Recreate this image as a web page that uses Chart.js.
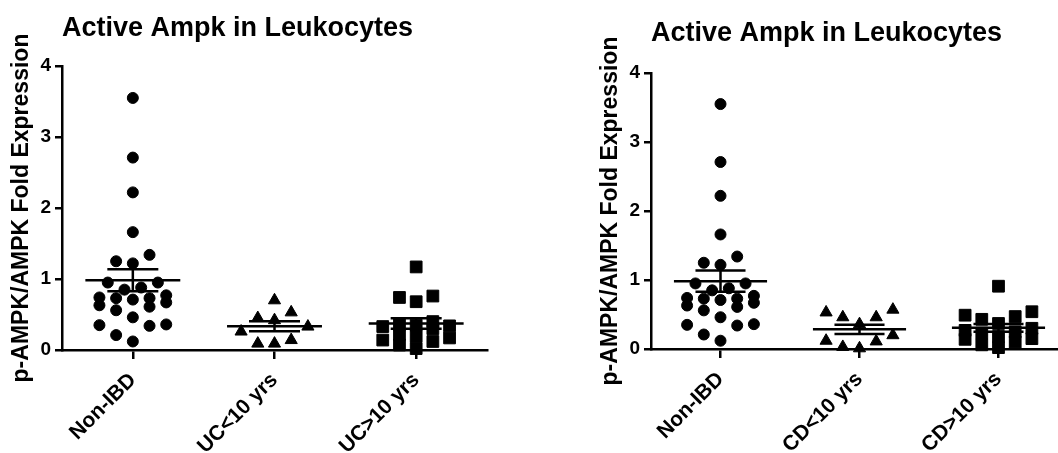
<!DOCTYPE html>
<html>
<head>
<meta charset="utf-8">
<script src="https://cdn.jsdelivr.net/npm/chart.js@4.4.0/dist/chart.umd.min.js"></script>
<style>
  html, body { margin: 0; padding: 0; background: #fff; overflow: hidden; width: 1058px; height: 453px; }
  #wrap { position: relative; width: 1058px; height: 453px; overflow: hidden; }
  canvas { position: absolute; top: 0; }
  #ucChart { left: 0; }
  #cdChart { left: 589px; }
</style>
</head>
<body>
<div id="wrap">
  <canvas id="ucChart" width="589" height="453"></canvas>
  <canvas id="cdChart" width="500" height="453"></canvas>
</div>
<script>
// ---- text ----
const chartTitle = 'Active Ampk in Leukocytes';
const yAxisTitle = 'p-AMPK/AMPK Fold Expression';
const yTicks = [0, 1, 2, 3, 4];

// ---- groups ----
const ucCategories = ['Non-IBD', 'UC<10 yrs', 'UC>10 yrs'];
const cdCategories = ['Non-IBD', 'CD<10 yrs', 'CD>10 yrs'];

// ---- fold expression per subject ----
const nonIBD = [3.55, 2.71, 2.22, 1.66, 1.34, 1.25, 1.22, 0.95, 0.95, 0.88, 0.85, 0.77, 0.74,
                0.73, 0.73, 0.71, 0.67, 0.63, 0.61, 0.56, 0.46, 0.36, 0.35, 0.34, 0.21, 0.12];
const ucUnder10 = [0.70, 0.53, 0.45, 0.42, 0.33, 0.26, 0.14, 0.09, 0.09];
const ucOver10 = [1.17, 0.76, 0.74, 0.68, 0.40, 0.36, 0.35, 0.34, 0.33, 0.30, 0.22, 0.19,
                  0.17, 0.14, 0.12, 0.07, 0.02];
const cdUnder10 = [0.57, 0.53, 0.46, 0.46, 0.36, 0.20, 0.12, 0.11, 0.03, 0.01];
const cdOver10 = [0.91, 0.54, 0.49, 0.47, 0.43, 0.37, 0.30, 0.27, 0.25, 0.23, 0.18, 0.15,
                  0.14, 0.10, 0.06, 0.02];

// ---- drawing constants ----
const FONT = "'Liberation Sans', Arial, Helvetica, sans-serif";
const MARK_RADIUS = { circle: 5.5, triangle: 7, rect: 8.3 };
const SLOT_PX = 16.7;      // horizontal spacing between side-by-side symbols
const ROW_SPAN_PX = 17.4;  // values closer than this share a row
const ROW_MAX = 5;         // symbols per row
const MEAN_HALF = 0.335;   // half width of the mean line, in category units
const CAP_HALF = 0.18;     // half width of the SEM caps, in category units
const LINE_W = 2.5;

function meanSem(values) {
  const n = values.length;
  const mean = values.reduce((a, b) => a + b, 0) / n;
  const sd = Math.sqrt(values.reduce((a, v) => a + (v - mean) ** 2, 0) / (n - 1));
  return { mean, sem: sd / Math.sqrt(n) };
}

// Group close values into rows (bottom up) and spread each row sideways,
// highest values on the outside, lowest in the middle.
function swarmSlots(values, pxPerUnit) {
  const order = values.map((_, i) => i).sort((a, b) => values[a] - values[b]);
  const rows = [];
  let row = null;
  for (const i of order) {
    const y = values[i] * pxPerUnit;
    if (!row || row.items.length >= ROW_MAX || y - row.start >= ROW_SPAN_PX) {
      row = { start: y, items: [] };
      rows.push(row);
    }
    row.items.push(i);
  }
  const slots = [];
  rows.forEach(r => {
    const n = r.items.length;
    const desc = r.items.slice().sort((a, b) => values[b] - values[a]);
    const pos = [];
    for (let j = 0; j < n; j++) pos.push(j - (n - 1) / 2);
    const ordered = [];
    let lo = 0, hi = n - 1, takeHi = true;
    while (lo <= hi) {
      ordered.push(takeHi ? pos[hi--] : pos[lo++]);
      takeHi = !takeHi;
    }
    desc.forEach((idx, j) => { slots[idx] = ordered[j]; });
  });
  return slots;
}

// Mean line with SEM whiskers over each group.
const meanSemPlugin = {
  id: 'meanSem',
  afterDatasetsDraw(chart) {
    const { ctx, scales: { x, y } } = chart;
    const pxPerCat = Math.abs(x.getPixelForValue(1) - x.getPixelForValue(0));
    ctx.save();
    ctx.strokeStyle = '#000';
    ctx.lineWidth = LINE_W;
    ctx.lineCap = 'butt';
    chart.data.datasets.forEach((ds, i) => {
      const { mean, sem } = meanSem(ds.values);
      const cx = x.getPixelForValue(i);
      const ym = y.getPixelForValue(mean);
      const yHi = y.getPixelForValue(mean + sem);
      const yLo = y.getPixelForValue(mean - sem);
      const mh = MEAN_HALF * pxPerCat, ch = CAP_HALF * pxPerCat;
      ctx.beginPath();
      ctx.moveTo(cx - mh, ym); ctx.lineTo(cx + mh, ym);
      ctx.moveTo(cx, yHi); ctx.lineTo(cx, yLo);
      ctx.moveTo(cx - ch, yHi); ctx.lineTo(cx + ch, yHi);
      ctx.moveTo(cx - ch, yLo); ctx.lineTo(cx + ch, yLo);
      ctx.stroke();
    });
    ctx.restore();
  }
};

function makeChart(canvasId, categories, groups, styles, frame) {
  const datasets = groups.map((values, i) => ({
    label: categories[i],
    values: values,
    data: values.map(v => ({ x: i, y: v })),
    pointStyle: styles[i],
    pointRadius: MARK_RADIUS[styles[i]],
    pointHoverRadius: MARK_RADIUS[styles[i]],
    backgroundColor: '#000',
    borderColor: '#000',
    borderWidth: 1,
    showLine: false,
    clip: false
  }));

  const chart = new Chart(document.getElementById(canvasId), {
    type: 'scatter',
    data: { datasets },
    options: {
      responsive: false,
      animation: false,
      events: [],
      layout: { padding: { left: 0, right: frame.padRight, top: 0, bottom: 0 } },
      plugins: {
        legend: { display: false },
        tooltip: { enabled: false },
        title: {
          display: true,
          text: chartTitle,
          align: 'start',
          fullSize: false,
          color: '#000',
          font: { family: FONT, size: 27, weight: 'bold', lineHeight: 1.2 },
          padding: { top: frame.titleTop, bottom: frame.titleBottom }
        }
      },
      scales: {
        x: {
          type: 'linear',
          min: -0.5,
          max: categories.length - 0.5,
          afterBuildTicks: s => { s.ticks = categories.map((_, i) => ({ value: i })); },
          afterFit: s => { s.height = frame.xHeight; },
          grid: { drawOnChartArea: false, drawTicks: true, tickLength: 9, color: '#000', lineWidth: LINE_W },
          border: { display: true, color: '#000', width: LINE_W },
          ticks: {
            autoSkip: false,
            maxRotation: 45,
            minRotation: 45,
            padding: 9,
            color: '#000',
            font: { family: FONT, size: 21, weight: 'bold' },
            callback: v => categories[v]
          }
        },
        y: {
          min: 0,
          max: 4,
          afterBuildTicks: s => { s.ticks = yTicks.map(v => ({ value: v })); },
          afterFit: s => { s.width = 62; },
          grid: { drawOnChartArea: false, drawTicks: true, tickLength: 7, color: '#000', lineWidth: LINE_W },
          border: { display: true, color: '#000', width: LINE_W },
          ticks: {
            padding: 4,
            color: '#000',
            font: { family: FONT, size: 19, weight: 'bold' }
          },
          title: {
            display: true,
            text: yAxisTitle,
            color: '#000',
            font: { family: FONT, size: 23, weight: 'bold', lineHeight: 1.2 },
            padding: { top: 8, bottom: 0 }
          }
        }
      }
    },
    plugins: [meanSemPlugin]
  });

  // Lay the symbols out side by side once the scales are known.
  const xs = chart.scales.x, ys = chart.scales.y;
  const pxPerCat = Math.abs(xs.getPixelForValue(1) - xs.getPixelForValue(0));
  const pxPerUnit = Math.abs(ys.getPixelForValue(0) - ys.getPixelForValue(1));
  chart.data.datasets.forEach((ds, i) => {
    const slots = swarmSlots(ds.values, pxPerUnit);
    ds.data = ds.values.map((v, j) => ({ x: i + slots[j] * SLOT_PX / pxPerCat, y: v }));
  });
  chart.update('none');
  return chart;
}

makeChart('ucChart', ucCategories, [nonIBD, ucUnder10, ucOver10], ['circle', 'triangle', 'rect'],
  { padRight: 102, titleTop: 12, titleBottom: 21.6, xHeight: 103 });
makeChart('cdChart', cdCategories, [nonIBD, cdUnder10, cdOver10], ['circle', 'triangle', 'rect'],
  { padRight: 21, titleTop: 17, titleBottom: 23.6, xHeight: 104 });
</script>
</body>
</html>
